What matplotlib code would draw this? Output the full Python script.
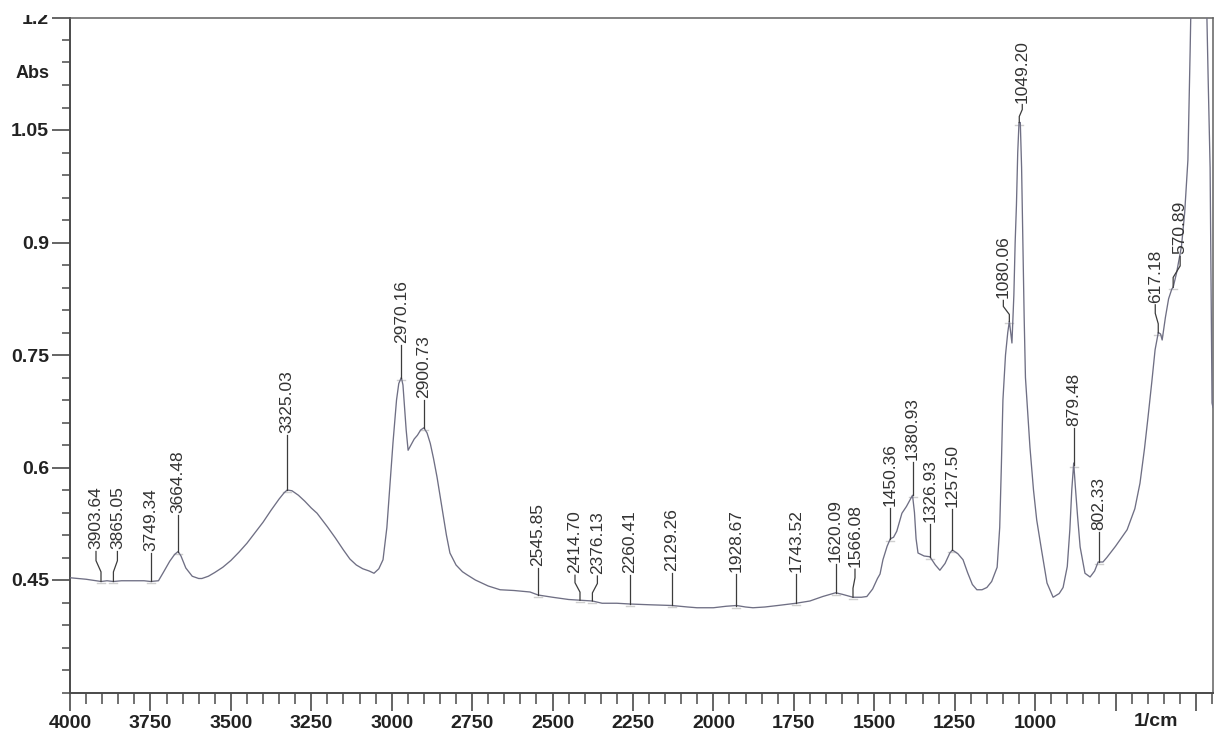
import numpy as np
import matplotlib
matplotlib.use("Agg")
import matplotlib.pyplot as plt
from matplotlib.ticker import FixedLocator, FixedFormatter, MultipleLocator
from matplotlib.patches import Rectangle

# ---------------- data ----------------
wavenumber = [
    4000, 3950, 3920, 3903, 3885, 3865, 3840, 3800, 3770, 3749, 3725, 3710,
    3690, 3675, 3664, 3655, 3640, 3620, 3600, 3590, 3570, 3550, 3525, 3500,
    3475, 3450, 3425, 3400, 3375, 3350, 3335, 3325, 3310, 3290, 3270, 3250,
    3232, 3200, 3175, 3150, 3130, 3110, 3090, 3070, 3055, 3040, 3027, 3015,
    3005, 2996, 2985, 2978, 2970, 2965, 2960, 2955, 2949, 2940, 2930, 2920,
    2910, 2900, 2890, 2880, 2870, 2859, 2845, 2830, 2819, 2800, 2780, 2766,
    2740, 2700, 2663, 2620, 2570, 2545, 2500, 2450, 2414, 2376, 2346, 2300,
    2260, 2200, 2129, 2080, 2051, 2000, 1960, 1928, 1900, 1877, 1840, 1800,
    1743, 1700, 1660, 1620, 1600, 1566, 1540, 1523, 1505, 1490, 1482, 1473,
    1460, 1450, 1440, 1430, 1414, 1400, 1390, 1381, 1375, 1370, 1364, 1345,
    1327, 1310, 1296, 1280, 1265, 1257, 1240, 1224, 1210, 1195, 1181, 1165,
    1150, 1135, 1118, 1110, 1105, 1100, 1092, 1085, 1080, 1076, 1072, 1066,
    1062, 1058, 1054, 1050, 1046, 1042, 1038, 1034, 1030, 1016, 1005, 995,
    980, 963, 944, 925, 913, 900, 892, 886, 880, 875, 868, 860, 845, 829,
    815, 804, 789, 777, 750, 714, 690, 674, 660, 649, 637, 627, 617, 610,
    605, 595, 585, 575, 571, 560, 545, 535, 525, 518, 512, 500, 475, 466,
    462, 456, 450, 447,
]
absorbance = [
    0.453, 0.451, 0.449, 0.448, 0.449, 0.448, 0.449, 0.449, 0.449, 0.448, 0.449, 0.460,
    0.475, 0.484, 0.488, 0.482, 0.466, 0.455, 0.452, 0.452, 0.455, 0.460, 0.467, 0.476,
    0.487, 0.499, 0.513, 0.527, 0.543, 0.558, 0.566, 0.570, 0.569, 0.563, 0.555, 0.546,
    0.539, 0.521, 0.506, 0.490, 0.478, 0.470, 0.465, 0.462, 0.459, 0.465, 0.477, 0.520,
    0.580, 0.633, 0.690, 0.712, 0.720, 0.710, 0.680, 0.650, 0.623, 0.630, 0.638, 0.643,
    0.650, 0.653, 0.646, 0.632, 0.612, 0.587, 0.550, 0.510, 0.486, 0.470, 0.461, 0.457,
    0.450, 0.442, 0.437, 0.436, 0.434, 0.430, 0.427, 0.424, 0.423, 0.422, 0.419, 0.419,
    0.418, 0.417, 0.416, 0.414, 0.413, 0.413, 0.415, 0.416, 0.414, 0.413, 0.414, 0.416,
    0.419, 0.422, 0.428, 0.433, 0.431, 0.427, 0.427, 0.428, 0.438, 0.452, 0.458, 0.477,
    0.495, 0.505, 0.507, 0.515, 0.539, 0.548, 0.556, 0.563, 0.540, 0.505, 0.486, 0.482,
    0.481, 0.470, 0.463, 0.472, 0.486, 0.490, 0.485, 0.477, 0.460, 0.444, 0.437, 0.437,
    0.440, 0.448, 0.467, 0.520, 0.600, 0.690, 0.750, 0.780, 0.795, 0.780, 0.766, 0.830,
    0.900, 0.950, 1.020, 1.060, 1.060, 1.000, 0.900, 0.800, 0.720, 0.627, 0.570, 0.530,
    0.490, 0.446, 0.427, 0.432, 0.440, 0.468, 0.517, 0.570, 0.606, 0.575, 0.535, 0.494,
    0.459, 0.454, 0.462, 0.474, 0.474, 0.480, 0.495, 0.517, 0.545, 0.579, 0.625, 0.667,
    0.715, 0.757, 0.780, 0.778, 0.770, 0.800, 0.825, 0.838, 0.840, 0.860, 0.895, 0.940,
    1.010, 1.157, 1.300, 1.400, 1.400, 1.200, 1.117, 1.000, 0.686, 0.680,
]

peak_labels = [
    "3903.64", "3865.05", "3749.34", "3664.48", "3325.03", "2970.16", "2900.73",
    "2545.85", "2414.70", "2376.13", "2260.41", "2129.26", "1928.67", "1743.52",
    "1620.09", "1566.08", "1450.36", "1380.93", "1326.93", "1257.50", "1080.06",
    "1049.20", "879.48", "802.33", "617.18", "570.89",
]

x_tick_values = [4000, 3750, 3500, 3250, 3000, 2750, 2500, 2250, 2000, 1750, 1500, 1250, 1000, 750, 500]
x_tick_labels = ["4000", "3750", "3500", "3250", "3000", "2750", "2500", "2250", "2000", "1750", "1500", "1250", "1000", "", ""]
y_tick_values = [0.45, 0.6, 0.75, 0.9, 1.05, 1.2]
y_tick_labels = ["0.45", "0.6", "0.75", "0.9", "1.05", "1.2"]

# ---------------- layout of peak labels (pixels) ----------------
label_lift = [32, 32, 30, 39, 57, 35, 30, 29, 27, 27, 31, 34, 34, 31,
              31, 30, 33, 35, 35, 43, 23, 20, 39, 32, 30, 33]
label_dx = [-5, 4, 0, 0, 0, 0, 0, 0, -5, 5, 0, 0, 0, 0,
            0, 2, 0, 0, 0, 0, -6, 3, 0, 0, -3, 7]

# ---------------- figure ----------------
W, H = 1218, 731
fig = plt.figure(figsize=(W / 100, H / 100), dpi=100)
fig.patch.set_facecolor("white")
ax = fig.add_axes([70 / W, 1 - 692.5 / H, (1213 - 70) / W, (692.5 - 17.5) / H])

ax.plot(wavenumber, absorbance, color="#6f6f84", lw=0.95, zorder=3, clip_on=True)
ax.set_xlim(4000, 447)
ax.set_ylim(0.3, 1.2)

spine_col = "#4a4a4a"
for s in ["left", "bottom"]:
    ax.spines[s].set_color(spine_col)
    ax.spines[s].set_linewidth(1.4)
for s in ["top", "right"]:
    ax.spines[s].set_color("#606060")
    ax.spines[s].set_linewidth(1.1)

ax.xaxis.set_major_locator(FixedLocator(x_tick_values))
ax.xaxis.set_major_formatter(FixedFormatter(x_tick_labels))
ax.xaxis.set_minor_locator(MultipleLocator(50))
ax.yaxis.set_major_locator(FixedLocator(y_tick_values))
ax.yaxis.set_major_formatter(FixedFormatter(y_tick_labels))
ax.yaxis.set_minor_locator(MultipleLocator(0.03))

tick_font = dict(family="Liberation Sans", size=14, weight="bold")
ax.tick_params(axis="x", which="major", direction="out", length=13, width=1.2,
               color=spine_col, pad=3, labelcolor="#222222")
ax.tick_params(axis="x", which="minor", direction="out", length=8, width=1.1, color=spine_col)
ax.tick_params(axis="y", which="major", direction="out", length=13, width=1.2,
               color=spine_col, pad=2, labelcolor="#222222")
ax.tick_params(axis="y", which="minor", direction="out", length=6, width=1.1, color=spine_col)
for lab in ax.get_xticklabels() + ax.get_yticklabels():
    lab.set_fontfamily("Liberation Sans")
    lab.set_fontsize(14)
    lab.set_fontweight("bold")

# axis captions
fig.text(33 / W, 1 - 73 / H, "Abs", ha="center", va="center",
         fontfamily="Liberation Sans", fontsize=13, fontweight="bold", color="#222222")
fig.text(1156 / W, 1 - 722 / H, "1/cm", ha="center", va="center",
         fontfamily="Liberation Sans", fontsize=14, fontweight="bold", color="#222222")

# ---------------- peak labels with leader lines ----------------
wn_asc = np.array(wavenumber[::-1], dtype=float)
ab_asc = np.array(absorbance[::-1], dtype=float)
inv = ax.transData.inverted()
for lbl, lift, dx in zip(peak_labels, label_lift, label_dx):
    w = float(lbl)
    a = float(np.interp(w, wn_asc, ab_asc))
    px, py = ax.transData.transform((w, a))
    top = py + lift - 2
    if dx == 0:
        pts = [(px, py), (px, top)]
    else:
        pts = [(px, py), (px, py + lift * 0.3), (px + dx, py + lift * 0.65), (px + dx, top)]
    dpts = inv.transform(pts)
    ax.plot(dpts[:, 0], dpts[:, 1], color="#3c3c3c", lw=0.9, zorder=4, clip_on=False)
    # faint baseline mark
    mk = inv.transform([(px - 4, py - 2), (px + 4, py - 2)])
    ax.plot(mk[:, 0], mk[:, 1], color="#cfcfcf", lw=1.0, zorder=2)
    tx, ty = inv.transform((px + dx, py + lift))
    ax.text(tx, ty, lbl, rotation=90, ha="center", va="bottom",
            fontfamily="Liberation Sans", fontsize=12.5, color="#333333",
            zorder=5, clip_on=False)

# the "1.2" label is cut at the top in the reference
fig.patches.append(Rectangle((0, 1 - 15 / H), 60 / W, 15 / H, transform=fig.transFigure,
                             facecolor="white", edgecolor="none", zorder=10))

fig.savefig("out.png", dpi=100, facecolor="white")
